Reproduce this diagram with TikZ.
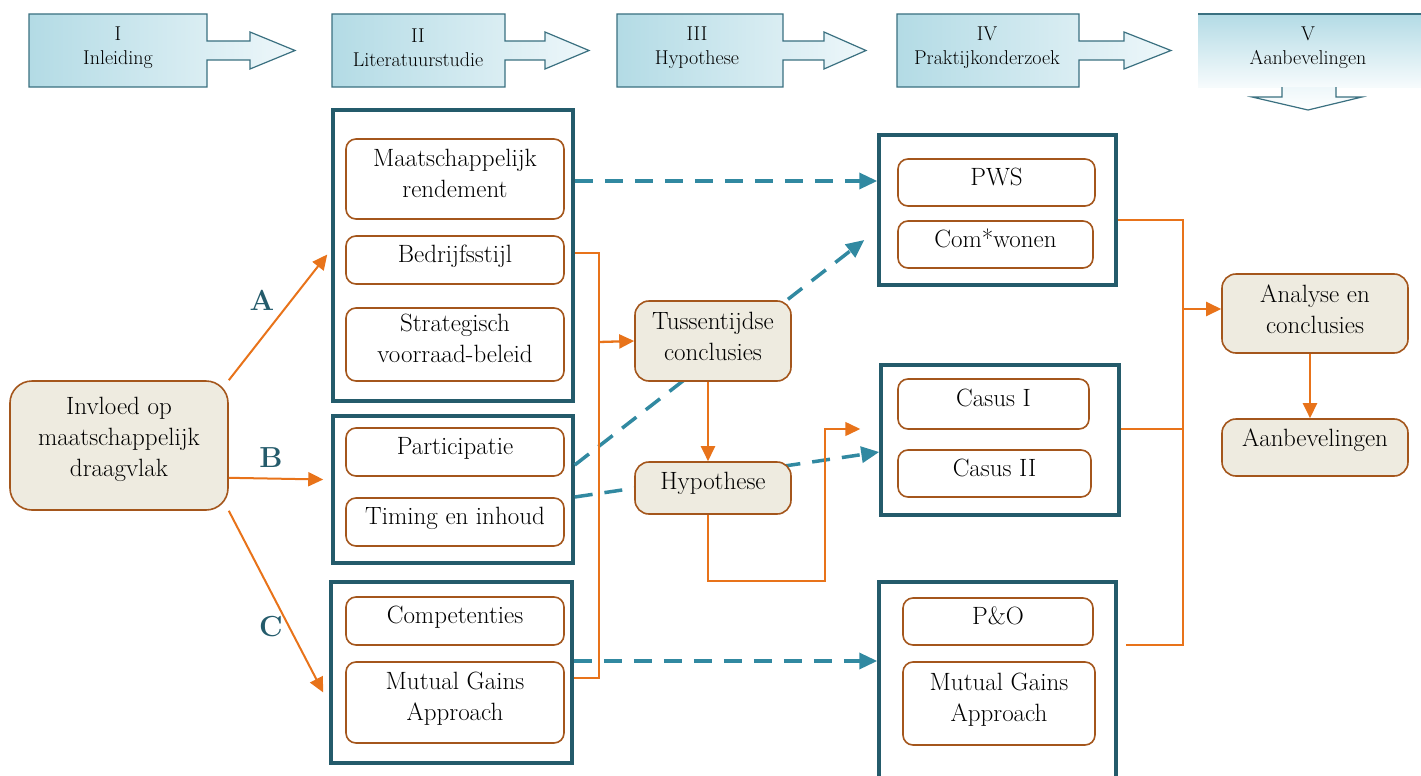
\documentclass[tikz,border=0pt]{standalone}
\usetikzlibrary{arrows.meta,calc}
\definecolor{grpc}{HTML}{245B6B}
\definecolor{brn}{HTML}{A4561C}
\definecolor{beige}{HTML}{EEEBE0}
\definecolor{org}{HTML}{E8731A}
\definecolor{dteal}{HTML}{3189A1}
\definecolor{hdrL}{HTML}{B3DBE5}
\definecolor{hdrR}{HTML}{EEF7FA}
\definecolor{hdrB}{HTML}{3A7080}
\newcommand\bodyfnt{\fontsize{25}{31}\selectfont}
\newcommand\hdrfnt{\fontsize{20}{24}\selectfont}
\newcommand\lblfnt{\fontsize{29}{29}\selectfont\bfseries}
\begin{document}
\begin{tikzpicture}[x=1pt,y=-1pt,
 grp/.style={draw=grpc,line width=3.5pt,rectangle,inner sep=0pt},
 item/.style={draw=brn,line width=1.6pt,rounded corners=10pt,fill=white,align=center,inner sep=2pt,font=\bodyfnt,text depth=12pt},
 keybox/.style={draw=brn,line width=1.6pt,rounded corners=14pt,fill=beige,align=center,inner sep=2pt,font=\bodyfnt,text depth=10pt},
 hdrtext/.style={align=center,font=\hdrfnt},
 oline/.style={draw=org,line width=1.5pt},
 othin/.style={draw=org,line width=1.5pt,-{Triangle[length=15pt,width=14pt]}},
 oarrow/.style={draw=org,line width=2.3pt,-{Triangle[length=15pt,width=14pt]}},
 darrow/.style={draw=dteal,line width=3.5pt,dash pattern=on 18pt off 12pt,-{Triangle[length=18pt,width=16pt]}},
 hdrshape/.style={draw=hdrB,line width=1.2pt,left color=hdrL,right color=hdrR},
 lbl/.style={text=grpc,font=\lblfnt},
]
\useasboundingbox (0,0) rectangle (1421,776);

% header
\shade[hdrshape] (29,14) -- (207,14) -- (207,41) -- (250,41) -- (250,32) -- (295,50.5) -- (250,69) -- (250,60) -- (207,60) -- (207,87) -- (29,87) -- cycle;
\node[hdrtext] (h1) at (118,48) {I\\Inleiding};
\shade[hdrshape] (332,14) -- (505,14) -- (505,41) -- (545,41) -- (545,32) -- (589,50.5) -- (545,69) -- (545,60) -- (505,60) -- (505,87) -- (332,87) -- cycle;
\node[hdrtext] (h2) at (418,48) {II\\Literatuurstudie};
\shade[hdrshape] (617,14) -- (783,14) -- (783,41) -- (824,41) -- (824,32) -- (866,50.5) -- (824,69) -- (824,60) -- (783,60) -- (783,87) -- (617,87) -- cycle;
\node[hdrtext] (h3) at (697,48) {III\\Hypothese};
\shade[hdrshape] (897,14) -- (1079,14) -- (1079,41) -- (1124,41) -- (1124,32) -- (1171,50.5) -- (1124,69) -- (1124,60) -- (1079,60) -- (1079,87) -- (897,87) -- cycle;
\node[hdrtext] (h4) at (987,48) {IV\\Praktijkonderzoek};
\shade[top color=hdrL,bottom color=hdrR!50!white] (1198,14) rectangle (1421,87);
\draw[hdrB,line width=1.2pt] (1198,14) -- (1421,14);
\shade[top color=hdrR,bottom color=white,draw=hdrB,line width=1.2pt] (1282,87) -- (1282,97) -- (1252,97) -- (1308,110) -- (1362,97) -- (1336,97) -- (1336,87);
\node[hdrtext] (h5) at (1308,48) {V\\Aanbevelingen};

% left key box
\node[keybox,rounded corners=22pt,minimum width=218pt,minimum height=129pt,text depth=17pt] (inv) at (119,445.5) {Invloed op\\maatschappelijk\\draagvlak};

% group A
\node[grp,minimum width=240pt,minimum height=291pt] (gA) at (453,255.5) {};
\node[item,minimum width=218pt,minimum height=80pt] (mr) at (455,179) {Maatschappelijk\\rendement};
\node[item,minimum width=218pt,minimum height=48pt] (bs) at (455,260) {Bedrijfsstijl};
\node[item,minimum width=218pt,minimum height=73pt] (sv) at (455,344.5) {Strategisch\\voorraad-beleid};
% group B
\node[grp,minimum width=240pt,minimum height=147pt] (gB) at (453,489.5) {};
\node[item,minimum width=218pt,minimum height=48pt] (pa) at (455,452) {Participatie};
\node[item,minimum width=218pt,minimum height=48pt] (ti) at (455,522) {Timing en inhoud};
% group C
\node[grp,minimum width=241pt,minimum height=181pt] (gC) at (451.5,672.5) {};
\node[item,minimum width=218pt,minimum height=48pt] (co) at (455,621) {Competenties};
\node[item,minimum width=218pt,minimum height=81pt] (mg1) at (455,702.5) {Mutual Gains\\Approach};

% right groups
\node[grp,minimum width=237pt,minimum height=150pt] (gP) at (997.5,210) {};
\node[item,minimum width=197pt,minimum height=47pt] (pws) at (996.5,182.5) {PWS};
\node[item,minimum width=195pt,minimum height=47pt] (cw) at (995.5,244.5) {Com*wonen};
\node[grp,minimum width=238pt,minimum height=150pt] (gK) at (1000,440) {};
\node[item,minimum width=191pt,minimum height=50pt] (c1) at (993.5,404) {Casus I};
\node[item,minimum width=193pt,minimum height=47pt] (c2) at (994.5,473.5) {Casus II};
\node[grp,minimum width=237pt,minimum height=218pt] (gO) at (997.5,691) {};
\node[item,minimum width=190pt,minimum height=47pt] (po) at (998,621.5) {P\&O};
\node[item,minimum width=192pt,minimum height=83pt] (mg2) at (999,703.5) {Mutual Gains\\Approach};

% dashed teal arrows (behind middle boxes)
\draw[darrow] (gA.east |- 0,181) -- (gP.west |- 0,181);
\coordinate (d2end) at ($(gP.west)+(-13,30)$);
\draw[darrow] (gB.east |- 0,465) -- (d2end);
\draw[darrow] (gB.east |- 0,497) -- ($(gK.west)+(0,12)$);
\draw[darrow] (gC.east |- 0,661) -- (gO.west |- 0,661);

% orange bracket left
\coordinate (jl) at (599,342);
\draw[oline] (gA.east |- 0,253) -| (599,678) -- (gC.east |- 0,678);

% middle key boxes
\node[keybox,minimum width=156pt,minimum height=80pt] (tc) at (713,341) {Tussentijdse\\conclusies};
\node[keybox,minimum width=156pt,minimum height=52pt,text depth=14pt] (hy) at (713,488) {Hypothese};
\draw[oarrow] (jl) -- (tc.west);
\draw[oarrow] (tc.south -| 708,0) -- (hy.north -| 708,0);
\coordinate (hyend) at ($(gK.west |- 0,429)+(-19,0)$);
\draw[othin] (hy.south -| 708,0) |- (825,581) |- (hyend);

% arrows from Invloed
\draw[oarrow,line width=2pt] (inv.north east) -- ($(gA.west)+(-4,-1)$);
\draw[oarrow,line width=2pt] ($(inv.south east)+(0,-33)$) -- ($(gB.west)+(-8,-10)$);
\draw[oarrow,line width=2pt] (inv.south east) -- ($(gC.west)+(-6,20)$);
\node[lbl] (la) at (262,300) {A};
\node[lbl] (lb) at (271,458) {B};
\node[lbl] (lc) at (271,627) {C};

% right side
\node[keybox,minimum width=186pt,minimum height=79pt,text depth=8pt] (an) at (1315,313.5) {Analyse en\\conclusies};
\node[keybox,minimum width=186pt,minimum height=57pt,text depth=20pt] (ab) at (1315,447.5) {Aanbevelingen};
\coordinate (jr) at (1183,309);
\draw[oline] (gP.east |- 0,220) -| (1183,645) -- (1126,645);
\draw[oline] (gK.east |- 0,429) -- (1183,429);
\draw[oarrow] (jr) -- (an.west |- jr);
\draw[oarrow] (an.south -| 1310,0) -- (ab.north -| 1310,0);
\end{tikzpicture}
\end{document}
